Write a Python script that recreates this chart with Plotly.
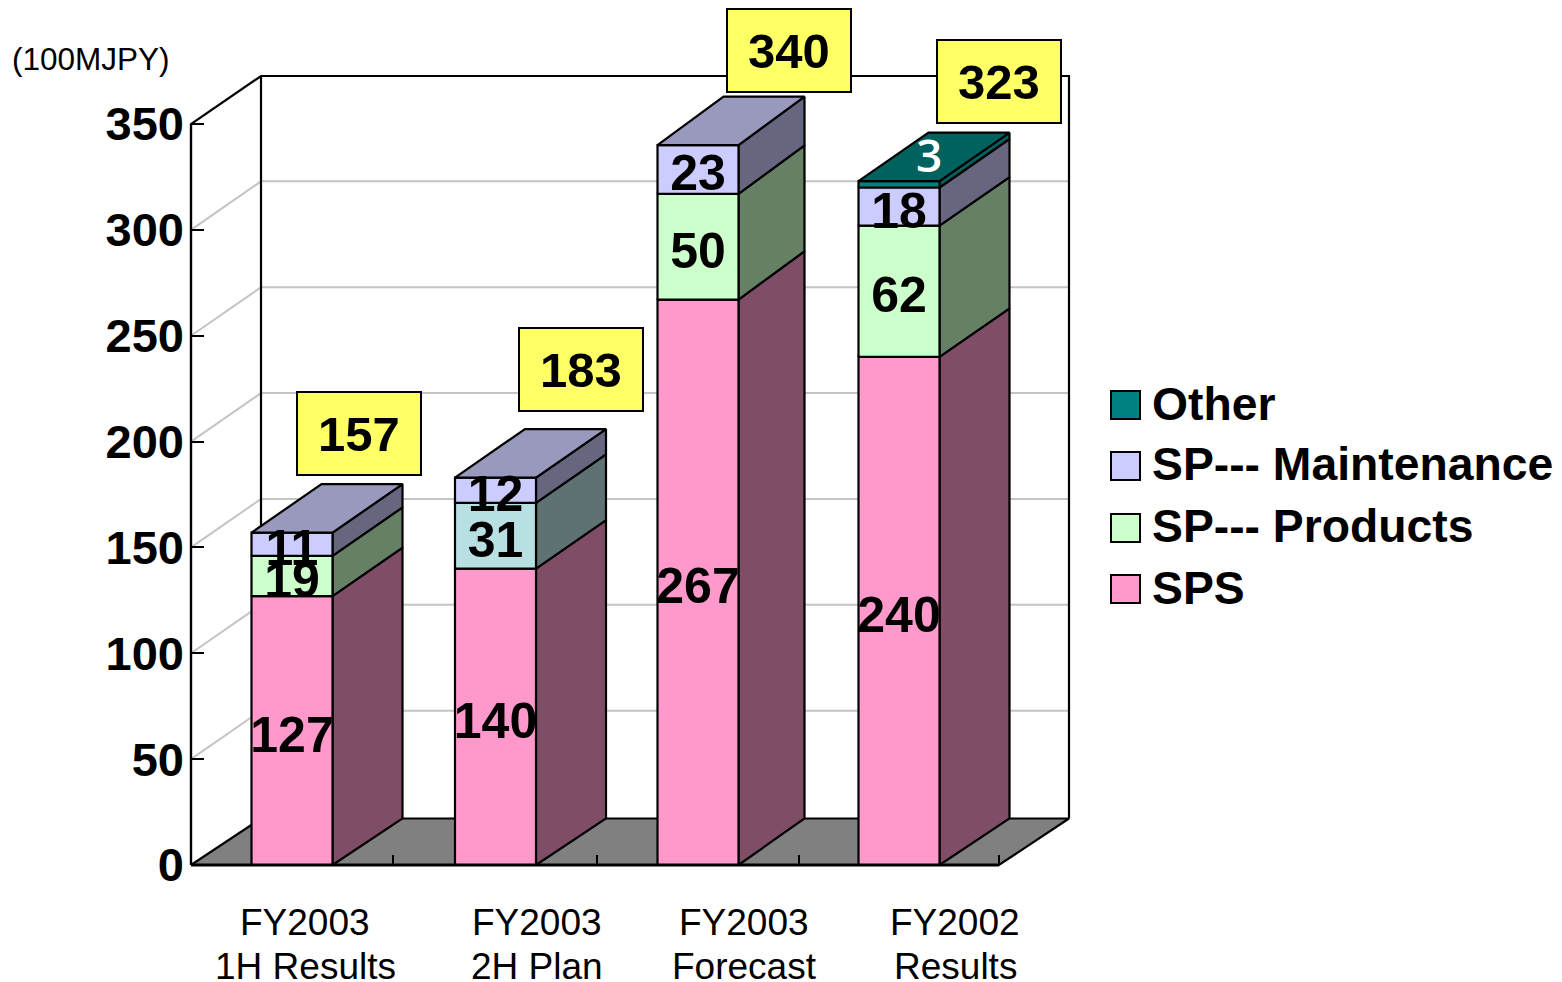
import plotly.graph_objects as go

# ---------- data ----------
CATEGORY_LINE1 = ["FY2003", "FY2003", "FY2003", "FY2002"]
CATEGORY_LINE2 = ["1H Results", "2H Plan", "Forecast", "Results"]
SPS = [127, 140, 267, 240]
SP_PRODUCTS = [19, 31, 50, 62]
SP_MAINTENANCE = [11, 12, 23, 18]
OTHER = [0, 0, 0, 3]
TOTALS = [157, 183, 340, 323]
Y_TICKS = [0, 50, 100, 150, 200, 250, 300, 350]
UNIT_LABEL = "(100MJPY)"

SERIES = [
    ("SPS", SPS, "#FF99CC", "#804D66", "#9999BD"),
    ("SP--- Products", SP_PRODUCTS, "#CCFFCC", "#668066", "#9999BD"),
    ("SP--- Maintenance", SP_MAINTENANCE, "#CCCCFF", "#666680", "#9999BD"),
    ("Other", OTHER, "#008080", "#00625F", "#00625F"),
]
LEGEND_ORDER = [("Other", "#008080", 404, 405), ("SP--- Maintenance", "#CCCCFF", 464, 466),
                ("SP--- Products", "#CCFFCC", 526, 528), ("SPS", "#FF99CC", 588, 589)]

# ---------- geometry / style ----------
W, H = 1562, 982
AX_LEFT, AX_ZERO = 191, 865
CAT_PX = 202.0
UNIT_PX = 741 / 350
PLOT_L, PLOT_B = 171, 874
DX = 70 / CAT_PX
DY = 48.5 / UNIT_PX
WALL_DY = 48 / UNIT_PX
FLOOR_DY = 46.5 / UNIT_PX
BAR_W = 81 / CAT_PX
BAR_NUDGE = [n / CAT_PX for n in (0, 1.5, 2, 1)]
BAR_DEPTH = [d / CAT_PX for d in (70, 70, 66, 70)]
TICK_NUDGE = [n / CAT_PX for n in (0, 2, 2, 0)]
FONT = "Liberation Sans"

x_range = [(PLOT_L - AX_LEFT) / CAT_PX, (W - AX_LEFT) / CAT_PX]
y_range = [(AX_ZERO - PLOT_B) / UNIT_PX, AX_ZERO / UNIT_PX]
px_x = lambda p: (p - PLOT_L) / (W - PLOT_L)
px_y = lambda p: (PLOT_B - p) / PLOT_B

fig = go.Figure()


def poly(xs, ys, fill=None, color="black", width=2.2, name=""):
    fig.add_trace(go.Scatter(
        x=xs, y=ys, mode="lines", name=name, showlegend=False, hoverinfo="skip",
        line=dict(color=color, width=width),
        fill="toself" if fill else None, fillcolor=fill,
    ))


n = len(CATEGORY_LINE1)
top_tick = Y_TICKS[-1]

# floor
poly([0, DX, n + DX, n, 0], [0, FLOOR_DY, FLOOR_DY, 0, 0], fill="#808080", name="floor")
# gridlines on side wall and back wall
for v in Y_TICKS[1:-1]:
    poly([0, DX, n + DX], [v, v + DY, v + DY], color="#C4C4C4", width=2, name="grid")
# walls
poly([0, 0, DX, n + DX, n + DX], [0, top_tick, top_tick + WALL_DY, top_tick + WALL_DY, FLOOR_DY], name="wall")
poly([DX, DX], [FLOOR_DY, top_tick + WALL_DY], name="wall")

# bars
for i in range(n):
    base = 0
    centre = i + 0.5 + BAR_NUDGE[i]
    left, right = centre - BAR_W / 2, centre + BAR_W / 2
    depth = BAR_DEPTH[i]
    visible = [s for s in SERIES if s[1][i] > 0]
    for name, vals, front, side, top in visible:
        if i == 1 and name == "SP--- Products":
            front, side = "#B8E0E2", "#5E7274"
        t = base + vals[i]
        base_dy = FLOOR_DY if base == 0 else DY
        poly([right, right + depth, right + depth, right, right],
             [base, base + base_dy, t + DY, t, base], fill=side, name=name)
        poly([left, right, right, left, left], [base, base, t, t, base], fill=front, name=name)
        if name == visible[-1][0]:
            poly([left, right, right + depth, left + depth, left], [t, t, t + DY, t + DY, t], fill=top, name=name)
        base = t

# axis lines drawn on top of the floor
poly([0, n], [0, 0], width=3, name="x axis")
poly([0, 0], [0, top_tick], width=2.2, name="y axis")

# value labels
lx, ly, lt = [], [], []
for i in range(n):
    base = 0
    for name, vals, *_ in SERIES:
        v = vals[i]
        if v and name != "Other":
            lx.append(i + 0.5 + BAR_NUDGE[i])
            ly.append(base + v / 2 - 4)
            lt.append(str(v))
        base += v
fig.add_trace(go.Scatter(x=lx, y=ly, text=lt, mode="text", showlegend=False, hoverinfo="skip",
                         cliponaxis=False, textposition="middle center",
                         textfont=dict(family=FONT, size=50, color="black", weight="bold")))

annotations = []
# total boxes
BOX_SHIFT_X = [67, 85.5, 91, 100]
BOX_SHIFT_Y = [99.5, 108, 95, 99.5]
for i, total in enumerate(TOTALS):
    annotations.append(dict(
        x=i + 0.5 + BAR_NUDGE[i], y=total, xref="x", yref="y", text=f"<b>{total}</b>", showarrow=False,
        xshift=BOX_SHIFT_X[i], yshift=BOX_SHIFT_Y[i], width=122, height=81,
        bgcolor="#FFFF66", bordercolor="black", borderwidth=2, borderpad=0,
        font=dict(family=FONT, size=49, color="black"), valign="middle", align="center"))

# small white "Other" label on the top face
annotations.append(dict(x=3.5 + BAR_NUDGE[3], y=SPS[3] + SP_PRODUCTS[3] + SP_MAINTENANCE[3] + OTHER[3], xref="x", yref="y",
                        text=str(OTHER[3]), showarrow=False, xshift=30, yshift=27,
                        font=dict(family="Open Sans", size=46, color="white", weight=600)))

# category labels
CAT_SHIFT = [13, 43, 48, 57]
for i in range(n):
    for line, py in ((CATEGORY_LINE1[i], 922), (CATEGORY_LINE2[i], 966.5)):
        annotations.append(dict(x=px_x(AX_LEFT + CAT_PX * (i + 0.5) + CAT_SHIFT[i]), y=px_y(py),
                                xref="paper", yref="paper", text=line, showarrow=False,
                                xanchor="center", yanchor="middle",
                                font=dict(family=FONT, size=37, color="black")))

# unit label
annotations.append(dict(x=px_x(91), y=px_y(59), xref="paper", yref="paper", text=UNIT_LABEL,
                        showarrow=False, xanchor="center", yanchor="middle",
                        font=dict(family=FONT, size=31.5, color="black")))

# legend
shapes = []
for name, color, ty, sy in LEGEND_ORDER:
    shapes.append(dict(type="rect", xref="paper", yref="paper",
                       x0=px_x(1111), x1=px_x(1140), y0=px_y(sy - 14), y1=px_y(sy + 14),
                       fillcolor=color, line=dict(color="black", width=2)))
    annotations.append(dict(x=px_x(1150), y=px_y(ty), xref="paper", yref="paper", text=f"<b>{name}</b>",
                            showarrow=False, xanchor="left", yanchor="middle",
                            font=dict(family=FONT, size=46.3, color="black")))

fig.update_layout(
    width=W, height=H, margin=dict(l=PLOT_L, r=0, t=0, b=H - PLOT_B, pad=0),
    paper_bgcolor="white", plot_bgcolor="white", showlegend=False,
    annotations=annotations, shapes=shapes, hovermode=False,
    xaxis=dict(range=x_range, showgrid=False, zeroline=False, showline=False,
               tickvals=[k + 1 + TICK_NUDGE[k] for k in range(n)], ticktext=[""] * n,
               ticks="inside", ticklen=10, tickcolor="black", tickwidth=2, anchor="free",
               position=(0 - y_range[0]) / (y_range[1] - y_range[0])),
    yaxis=dict(range=y_range, showgrid=False, zeroline=False, showline=False,
               tickvals=Y_TICKS, ticks="inside", ticklen=12, tickcolor="black", tickwidth=2,
               tickfont=dict(family=FONT, size=47, color="black", weight="bold"),
               ticklabelstandoff=7,
               anchor="free", position=(0 - x_range[0]) / (x_range[1] - x_range[0])),
)

fig.write_html("out.html", config={"displayModeBar": False},
               post_script="document.body.style.margin='0';")
